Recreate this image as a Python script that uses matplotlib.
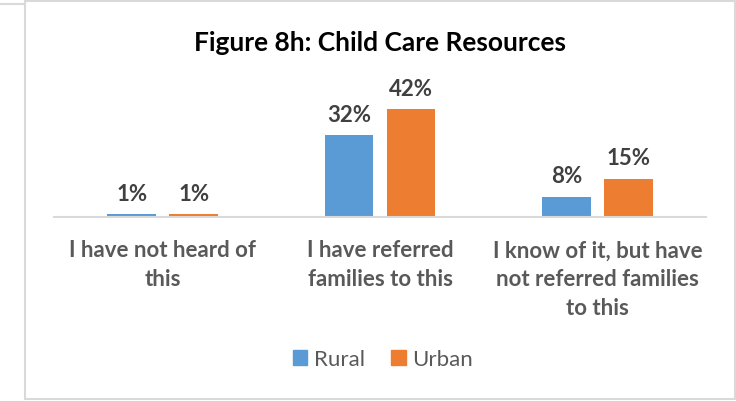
import matplotlib
matplotlib.use("Agg")
import matplotlib.pyplot as plt
from matplotlib.patches import Rectangle
from matplotlib.lines import Line2D
import numpy as np

categories = ["I have not heard of\nthis",
              "I have referred\nfamilies to this",
              "I know of it, but have\nnot referred families\nto this"]
series_names = ["Rural", "Urban"]
rural = [0.01, 0.32, 0.08]
urban = [0.01, 0.42, 0.15]
colors = ["#5B9BD5", "#ED7D31"]
title = "Figure 8h: Child Care Resources"

W, H = 736, 402
fig = plt.figure(figsize=(W / 100, H / 100), dpi=100)
fig.patch.set_facecolor("white")

def px(x0, y0, x1, y1):
    return [x0 / W, 1 - y1 / H, (x1 - x0) / W, (y1 - y0) / H]

# chart frame
fig.add_artist(Rectangle((25 / W, 1 - 400 / H), 710 / W, 398 / H, transform=fig.transFigure,
                         fill=False, edgecolor="#D9D9D9", linewidth=1.5))
fig.add_artist(Line2D([0, 25 / W], [1 - 5 / H, 1 - 5 / H], transform=fig.transFigure,
                      color="#D9D9D9", linewidth=1.5))

ax = fig.add_axes(px(54, 90, 706, 218))
font = "Lato"
txt = "#595959"

x = np.arange(len(categories))
bw = 0.225
gap = 0.06
off = (bw + gap) / 2
for vals, c, s in [(rural, colors[0], -1), (urban, colors[1], 1)]:
    bars = ax.bar(x + s * off, vals, bw, color=c)
    for b, v in zip(bars, vals):
        ax.text(b.get_x() + b.get_width() / 2, v + 0.04, f"{round(v * 100)}%",
                ha="center", va="bottom", fontsize=16, fontweight="bold",
                color="#404040", family=font)

ax.set_xlim(-0.5, len(categories) - 0.5)
ax.set_ylim(0, 0.5)
ax.set_yticks([])
ax.set_xticks(x)
ax.set_xticklabels(categories, fontsize=16, fontweight="bold", color=txt,
                   family=font, linespacing=1.45)
ax.tick_params(axis="x", length=0, pad=16)
for side in ["left", "right", "top"]:
    ax.spines[side].set_visible(False)
ax.spines["bottom"].set_color("#D9D9D9")
ax.spines["bottom"].set_linewidth(1.5)

fig.text(380 / W, 1 - 43 / H, title, ha="center", va="center", fontsize=19,
         fontweight="bold", color="black", family=font)

handles = [Rectangle((0, 0), 1, 1, color=c) for c in colors]
fig.legend(handles, series_names, loc="center", bbox_to_anchor=(383 / W, 1 - 360 / H),
           ncol=2, frameon=False, handlelength=0.65, handleheight=0.65,
           handletextpad=0.3, columnspacing=1.2,
           prop={"family": font, "size": 16}, labelcolor=txt)

fig.savefig("out.png", dpi=100)
